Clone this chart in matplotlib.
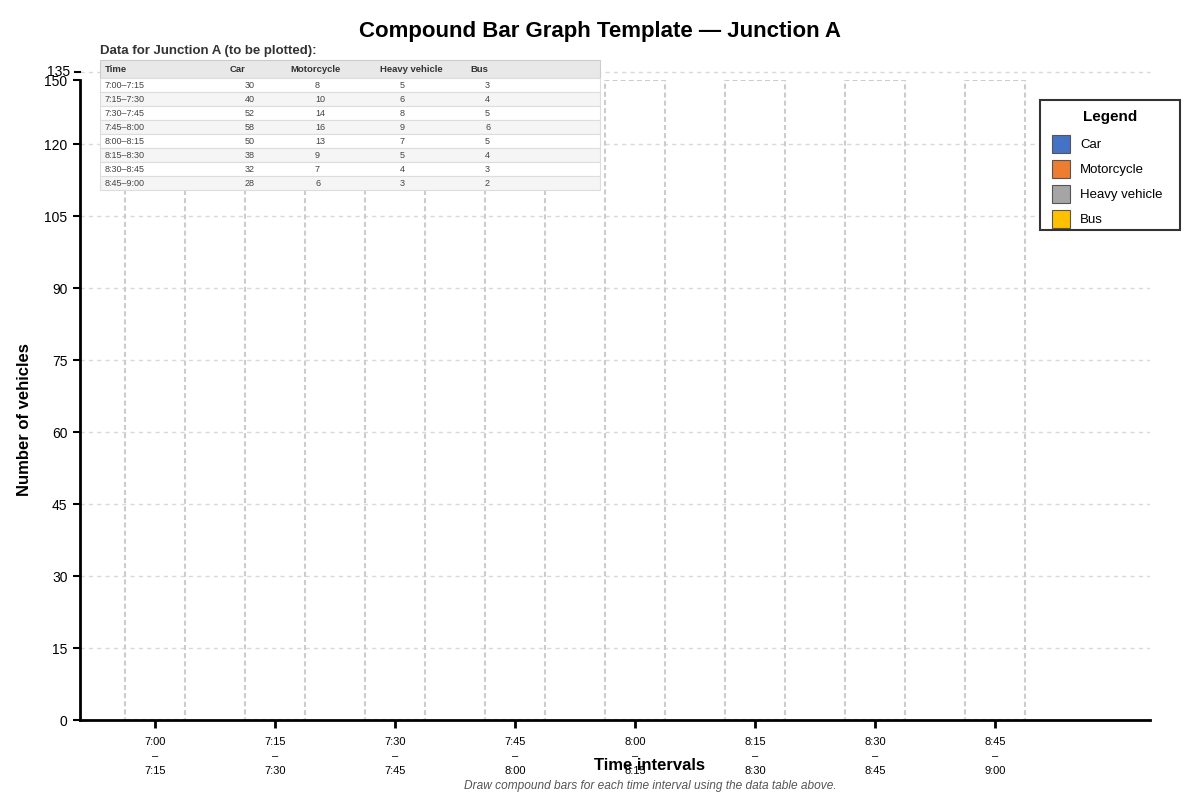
import matplotlib
matplotlib.use('Agg')
import matplotlib.pyplot as plt
from matplotlib.patches import Rectangle

plt.rcParams['font.family'] = ['Liberation Sans', 'DejaVu Sans']

# data table for junction A
times = ['7:00–7:15', '7:15–7:30', '7:30–7:45', '7:45–8:00',
         '8:00–8:15', '8:15–8:30', '8:30–8:45', '8:45–9:00']
tick_labels = ['7:00\n–\n7:15', '7:15\n–\n7:30', '7:30\n–\n7:45', '7:45\n–\n8:00',
               '8:00\n–\n8:15', '8:15\n–\n8:30', '8:30\n–\n8:45', '8:45\n–\n9:00']
car = [30, 40, 52, 58, 50, 38, 32, 28]
motorcycle = [8, 10, 14, 16, 13, 9, 7, 6]
heavy = [5, 6, 8, 9, 7, 5, 4, 3]
bus = [3, 4, 5, 6, 5, 4, 3, 2]

series_names = ['Car', 'Motorcycle', 'Heavy vehicle', 'Bus']
series_colors = ['#4472C4', '#ED7D31', '#A5A5A5', '#FFC000']

yticks = [0, 15, 30, 45, 60, 75, 90, 105, 120]
ymax = 400 / 3.0   # top of the axis (labelled 150 in the template)
ymax_label = '150'
extra_tick = 135


def px(x, y):
    # pixel -> figure coords
    return x / 1200.0, 1 - y / 800.0


fig = plt.figure(figsize=(12, 8), dpi=100)
ax = fig.add_axes([80 / 1200, 80 / 800, 1070 / 1200, 640 / 800])

xpos = list(range(len(times)))
ax.set_xlim(-0.625, 8.2917)
ax.set_ylim(0, ymax)

# empty dashed template bars
ax.bar(xpos, [ymax] * len(xpos), width=0.5, fill=False, edgecolor='#cccccc',
       linestyle=(0, (2.4, 1.5)), linewidth=1.5, zorder=2)

# grid
grid_ls = (0, (3, 3))
for v in yticks:
    if v == 0:
        continue
    ax.axhline(v, color='#d9d9d9', linestyle=grid_ls, linewidth=1, zorder=1)
ax.plot([-0.625, 8.2917], [extra_tick, extra_tick], color='#d9d9d9',
        linestyle=grid_ls, linewidth=1, clip_on=False, zorder=1)
trans = matplotlib.transforms.blended_transform_factory(ax.transAxes, ax.transData)
ax.plot([-0.0047, 0], [extra_tick, extra_tick], color='k', linewidth=1.5,
        transform=trans, clip_on=False)
ax.text(-0.0093, extra_tick, str(extra_tick), transform=trans, ha='right',
        va='center', fontsize=10)

ax.set_yticks(yticks + [ymax])
ax.set_yticklabels([str(v) for v in yticks] + [ymax_label], fontsize=10)
ax.set_xticks(xpos)
ax.set_xticklabels(tick_labels, fontsize=8, linespacing=1.6)

for s in ['top', 'right']:
    ax.spines[s].set_visible(False)
for s in ['left', 'bottom']:
    ax.spines[s].set_linewidth(2)
ax.tick_params(axis='y', length=5, width=1.5, pad=4)
ax.tick_params(axis='x', length=6, width=2, pad=6)

fig.text(*px(650, 765), 'Time intervals', ha='center', va='center',
         fontsize=12, fontweight='bold')
fig.text(*px(25, 420), 'Number of vehicles', ha='center', va='center',
         fontsize=12, fontweight='bold', rotation=90)
fig.text(*px(600, 32), 'Compound Bar Graph Template — Junction A', ha='center',
         va='center', fontsize=16, fontweight='bold')
fig.text(*px(650, 786), 'Draw compound bars for each time interval using the data table above.',
         ha='center', va='center', fontsize=8.6, style='italic', color='#555555')

# data table
fig.text(*px(100, 51), 'Data for Junction A (to be plotted):', ha='left',
         va='center', fontsize=9.5, fontweight='bold', color='#333333')
tx0, tx1 = 100, 600
head_y0, row_h = 60, 14
fig.patches.append(Rectangle(px(tx0, head_y0 + 18), 500 / 1200, 18 / 800,
                             transform=fig.transFigure, facecolor='#e8e8e8',
                             edgecolor='#cccccc', linewidth=0.8, zorder=3))
headers = ['Time'] + series_names
hx = [105, 230, 290, 380, 470]
vx = [105, 245, 315, 400, 485]
for h, x in zip(headers, hx):
    fig.text(*px(x, head_y0 + 9), h, ha='left', va='center', fontsize=6.8,
             fontweight='bold', color='#333333', zorder=4)
for i, t in enumerate(times):
    y0 = head_y0 + 18 + i * row_h
    fc = '#ffffff' if i % 2 == 0 else '#f5f5f5'
    fig.patches.append(Rectangle(px(tx0, y0 + row_h), 500 / 1200, row_h / 800,
                                 transform=fig.transFigure, facecolor=fc,
                                 edgecolor='#dddddd', linewidth=0.8, zorder=3))
    vals = [t, car[i], motorcycle[i], heavy[i], bus[i]]
    for v, x in zip(vals, vx):
        fig.text(*px(x, y0 + row_h / 2), str(v), ha='left', va='center',
                 fontsize=6.5, color='#444444', zorder=4)

# legend box
fig.patches.append(Rectangle(px(1040, 230), 140 / 1200, 130 / 800,
                             transform=fig.transFigure, facecolor='white',
                             edgecolor='#333333', linewidth=1.5, zorder=3))
fig.text(*px(1110, 117), 'Legend', ha='center', va='center', fontsize=11,
         fontweight='bold', zorder=4)
for i, (name, c) in enumerate(zip(series_names, series_colors)):
    y = 135 + i * 25
    fig.patches.append(Rectangle(px(1052, y + 18), 18 / 1200, 18 / 800,
                                 transform=fig.transFigure, facecolor=c,
                                 edgecolor='#555555', linewidth=0.8, zorder=4))
    fig.text(*px(1080, y + 10), name, ha='left', va='center', fontsize=9.5, zorder=4)

fig.savefig('out.png', dpi=100)
